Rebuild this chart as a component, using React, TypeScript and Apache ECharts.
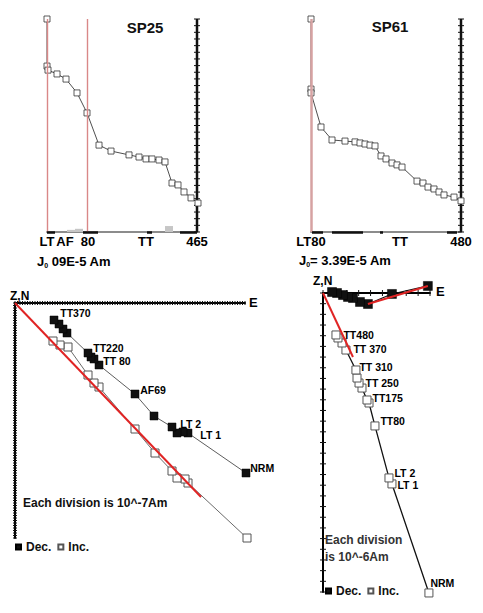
import React, { useEffect, useRef } from 'react';
import * as echarts from 'echarts';

const FONT = "'Liberation Sans', Arial, Helvetica, sans-serif";

// ---- SP25 demagnetisation curve (step position along axis, normalised intensity)
const sp25StepPos = [0, 0, 1, 10, 19, 30, 40, 52, 64, 82, 92, 99, 105, 112, 118, 125, 131, 137, 144, 151];
const sp25Intensity = [1.0, 0.779, 0.76, 0.742, 0.718, 0.653, 0.559, 0.408, 0.38, 0.362, 0.352, 0.343, 0.343, 0.338, 0.329, 0.23, 0.221, 0.188, 0.16, 0.136];
const sp25TickPos = [0, 18, 41, 99, 150];
const sp25TickLabels = ['LT', 'AF', '80', 'TT', '465'];
const sp25Boundaries = [0, 40];
const sp25BarPos = [24, 32, 122];
const sp25BarVal = [0.01, 0.015, 0.028];
const sp25SegStart = [0, 36, 100, 133];
const sp25SegEnd = [8, 51, 105, 150];

// ---- SP61 demagnetisation curve
const sp61StepPos = [0, 0, 0, 10, 21, 34, 44, 49, 54, 59, 64, 70, 75, 81, 86, 91, 106, 112, 117, 123, 128, 133, 143, 150];
const sp61Intensity = [1.0, 0.671, 0.653, 0.493, 0.432, 0.427, 0.423, 0.418, 0.413, 0.408, 0.404, 0.357, 0.343, 0.324, 0.315, 0.305, 0.239, 0.23, 0.211, 0.202, 0.188, 0.174, 0.164, 0.146];
const sp61TickPos = [0, 89, 150];
const sp61TickLabels = ['LT80', 'TT', '480'];
const sp61Boundaries = [0];
const sp61SegStart = [1, 21, 69, 136];
const sp61SegEnd = [12, 52, 72, 146];

// right-hand intensity ruler: number of divisions; demag step axis end
const rulerDivisions = 32;
const stepAxisMax = 150;

// ---- SP25 Zijderveld (divisions of 1e-7 Am), NRM first
const sp25DivE = 92;
const sp25DivZ = 94;
const sp25DecE = [92.4, 69.2, 67.2, 64.8, 62.8, 55.6, 48, 33.6, 31.6, 30.4, 29.2, 20.8, 19.2, 17.6, 15.6];
const sp25DecN = [68, 52, 51.6, 52, 49.6, 45.2, 36.4, 24.8, 22.4, 21.6, 20, 12, 10.4, 8.4, 6.8];
const sp25DecLabels = ['NRM', 'LT 1', 'LT 2', '', '', '', 'AF69', 'TT 80', '', '', 'TT220', '', '', '', 'TT370'];
const sp25IncE = [92.8, 69.2, 68, 64.8, 62.8, 56, 48, 33.6, 31.6, 29.2, 21.2, 18, 15.2];
const sp25IncZ = [94, 72, 70.4, 70, 67.2, 60, 50.4, 33.6, 32, 28.8, 17.6, 16.8, 15.2];
const sp25FitE = [0, 74.4];
const sp25FitZ = [0, 77.6];

// ---- SP61 Zijderveld (divisions of 1e-6 Am), NRM first
const sp61DivE = 9;
const sp61DivZ = 28;
const sp61DecE = [8.82, 5.8, 3.78, 3.11, 2.52, 2.1, 1.68, 1.18, 0.76];
const sp61DecN = [-0.66, 0.09, 1.03, 0.84, 0.47, 0.37, 0.19, 0, -0.09];
const sp61IncE = [8.91, 5.8, 5.55, 4.37, 3.87, 3.7, 3.28, 3.03, 2.86, 2.77, 1.93, 1.6, 1.26, 1.09];
const sp61IncZ = [28.09, 17.88, 17.32, 12.45, 10.3, 10.02, 8.9, 8.43, 7.96, 7.21, 5.34, 4.68, 4.21, 3.93];
const sp61IncLabels = ['NRM', 'LT 1', 'LT 2', 'TT80', '', 'TT175', '', 'TT 250', '', 'TT 310', 'TT 370', '', '', 'TT480'];
const sp61IncFitE = [0, 2.52];
const sp61IncFitZ = [0, 5.99];
const sp61DecFitE = [3.78, 8.82];
const sp61DecFitN = [1.03, -0.66];

// label placement (style only)
const sp25LabelPlace: Record<string, { d: number; o: [number, number] }> = {
  'NRM': { d: 1, o: [-1, -5] },
  'LT 1': { d: 8, o: [0, 2] },
  'LT 2': { d: 2, o: [-9, -8] },
  'AF69': { d: 1, o: [0, -4] },
  'TT 80': { d: 0, o: [0, -4] },
  'TT220': { d: 1, o: [0, -5] },
  'TT370': { d: 2, o: [0, -7] },
};
const sp61LabelPlace: Record<string, { d: number; o: [number, number] }> = {
  'NRM': { d: 1, o: [-4, -10] },
  'LT 1': { d: 1, o: [0, 1] },
  'LT 2': { d: 1, o: [0, -5] },
  'TT80': { d: 1, o: [0, -5] },
  'TT175': { d: 1, o: [0, -2] },
  'TT 250': { d: 2, o: [0, 0] },
  'TT 310': { d: 1, o: [-2, -3] },
  'TT 370': { d: 3, o: [0, -1] },
  'TT480': { d: 3, o: [0, 0] },
};

const zip = (a: number[], b: number[]) => a.map((v, i) => [v, b[i]]);
const steps = (n: number, scale = 1) => Array.from({ length: n + 1 }, (_, i) => i * scale);

function labelledItems(xs: number[], ys: number[], labels: string[], place: Record<string, { d: number; o: [number, number] }>) {
  return xs.map((x, i) => {
    const t = labels[i];
    if (!t) return { value: [x, ys[i]] };
    const p = place[t] || { d: 2, o: [0, 0] };
    return {
      value: [x, ys[i]],
      label: {
        show: true, formatter: t, position: 'right', distance: p.d, offset: p.o,
        fontFamily: FONT, fontWeight: 'bold', fontSize: 10.5, color: '#000',
      },
    };
  });
}

function segLines(starts: number[], ends: number[]) {
  return starts.map((s, i) => [
    { coord: [s, 0], lineStyle: { color: '#111', width: 2.5 } },
    { coord: [ends[i], 0] },
  ]);
}

// A tick ruler drawn through the axes' own scales: crossing ticks at each division,
// plus (optionally) the spine line joining the first and last division.
function ruler(axisIndex: number, dim: 'x' | 'y', at: number, values: number[], half: number, spineWidth: number) {
  const data = values.map((v) => (dim === 'y' ? [at, v] : [v, at]));
  const first = data[0];
  const last = data[data.length - 1];
  return {
    type: 'custom',
    xAxisIndex: axisIndex,
    yAxisIndex: axisIndex,
    silent: true,
    clip: false,
    z: 2,
    data,
    renderItem: (params: any, api: any) => {
      const p = api.coord([api.value(0), api.value(1)]);
      const shape = dim === 'y'
        ? { x1: p[0] - half, y1: p[1], x2: p[0] + half, y2: p[1] }
        : { x1: p[0], y1: p[1] - half, x2: p[0], y2: p[1] + half };
      const children: any[] = [{ type: 'line', shape, style: { stroke: '#111', lineWidth: 1 } }];
      if (spineWidth > 0 && params.dataIndex === 0) {
        const a = api.coord(first);
        const b = api.coord(last);
        children.push({
          type: 'line',
          shape: { x1: a[0], y1: a[1], x2: b[0], y2: b[1] },
          style: { stroke: '#111', lineWidth: spineWidth },
        });
      }
      return { type: 'group', children };
    },
  };
}

function demagX(gi: number, pos: number[], labels: string[]) {
  return {
    gridIndex: gi, type: 'value', min: 0, max: stepAxisMax,
    axisLine: { onZero: false, lineStyle: { color: '#8c8c8c', width: 2 } },
    axisTick: { show: false },
    splitLine: { show: false },
    axisLabel: {
      customValues: pos,
      formatter: (v: number) => {
        const idx = pos.indexOf(v);
        return idx >= 0 ? labels[idx] : '';
      },
      fontFamily: FONT, fontWeight: 'bold', fontSize: 13, color: '#000', margin: 3,
    },
  };
}

function demagY(gi: number) {
  return { gridIndex: gi, type: 'value', min: 0, max: 1, show: false, splitLine: { show: false } };
}

function zijX(gi: number, max: number) {
  return {
    gridIndex: gi, type: 'value', position: 'top', min: 0, max, interval: 1,
    axisLine: { show: true, onZero: false, lineStyle: { color: '#000', width: 2 } },
    axisTick: { show: false },
    axisLabel: { show: false },
    splitLine: { show: false },
  };
}

function zijY(gi: number, max: number) {
  return {
    gridIndex: gi, type: 'value', position: 'left', inverse: true, min: 0, max, interval: 1,
    axisLine: { show: true, onZero: false, lineStyle: { color: '#000', width: 2 } },
    axisTick: { show: false },
    axisLabel: { show: false },
    splitLine: { show: false },
  };
}

function txt(x: number, y: number, text: string, size: number, align = 'left', fill = '#000', rich?: any) {
  return {
    type: 'text', x, y, z: 10,
    style: {
      text, fontFamily: FONT, fontWeight: 'bold', fontSize: size, fill,
      align, textAlign: align, verticalAlign: 'middle', textVerticalAlign: 'middle', rich,
    },
  };
}

const j0Rich = {
  j: { fontFamily: FONT, fontWeight: 'bold', fontSize: 13, fill: '#000', lineHeight: 16, verticalAlign: 'middle' },
  s: { fontFamily: FONT, fontWeight: 'bold', fontSize: 7, fill: '#000', lineHeight: 16, verticalAlign: 'bottom' },
  t: { fontFamily: FONT, fontWeight: 'bold', fontSize: 13, fill: '#000', lineHeight: 16, verticalAlign: 'middle' },
};

export default function App() {
  const ref = useRef<HTMLDivElement>(null);
  useEffect(() => {
    if (!ref.current) return;
    const chart = echarts.init(ref.current, undefined, { renderer: 'svg' });
    const grids = [
      { left: 47, top: 19, width: 150, height: 213 },
      { left: 311, top: 19, width: 150, height: 213 },
      { left: 15, top: 303, width: 230, height: 235 },
      { left: 323, top: 293, width: 107, height: 299 },
    ];
    const openSquare = { color: '#fff', borderColor: '#333', borderWidth: 0.8 };
    const rulerTicks = steps(rulerDivisions, 1 / rulerDivisions);
    const option: any = {
      animation: false,
      backgroundColor: '#fff',
      textStyle: { fontFamily: FONT },
      grid: grids.map((g) => ({ ...g, containLabel: false, show: false })),
      xAxis: [
        demagX(0, sp25TickPos, sp25TickLabels),
        demagX(1, sp61TickPos, sp61TickLabels),
        zijX(2, sp25DivE),
        zijX(3, sp61DivE),
      ],
      yAxis: [demagY(0), demagY(1), zijY(2, sp25DivZ), zijY(3, sp61DivZ)],
      legend: [
        {
          left: 15, top: 541, padding: 0, data: ['Dec.', 'Inc.'], icon: 'rect', itemWidth: 5, itemHeight: 5, itemGap: 6,
          selectedMode: false, textStyle: { fontFamily: FONT, fontWeight: 'bold', fontSize: 12, color: '#111' },
        },
        {
          left: 325, top: 585, padding: 0, data: ['Dec.', 'Inc.'], icon: 'rect', itemWidth: 5, itemHeight: 5, itemGap: 6,
          selectedMode: false, textStyle: { fontFamily: FONT, fontWeight: 'bold', fontSize: 12, color: '#111' },
        },
      ],
      series: [
        // right-hand rulers of the demag panels
        ruler(0, 'y', stepAxisMax, rulerTicks, 3, 2.5),
        ruler(1, 'y', stepAxisMax, rulerTicks, 3, 2.5),
        // crossing ticks on the Zijderveld axes
        ruler(2, 'x', 0, steps(sp25DivE), 2, 0),
        ruler(2, 'y', 0, steps(sp25DivZ), 2, 0),
        ruler(3, 'x', 0, steps(sp61DivE), 3, 0),
        ruler(3, 'y', 0, steps(sp61DivZ), 3, 0),
        {
          type: 'bar', xAxisIndex: 0, yAxisIndex: 0, silent: true, barWidth: 8,
          itemStyle: { color: '#c6c6c6' }, data: zip(sp25BarPos, sp25BarVal), z: 1,
        },
        {
          type: 'line', name: 'SP25 demag', xAxisIndex: 0, yAxisIndex: 0, data: zip(sp25StepPos, sp25Intensity),
          symbol: 'rect', symbolSize: 6, itemStyle: openSquare, lineStyle: { color: '#222', width: 0.8 }, clip: false, z: 3,
          markLine: {
            silent: true, symbol: 'none', label: { show: false },
            lineStyle: { color: '#d98888', width: 1.4, type: 'solid' },
            data: [...sp25Boundaries.map((v) => ({ xAxis: v })), ...segLines(sp25SegStart, sp25SegEnd)],
          },
        },
        {
          type: 'line', name: 'SP61 demag', xAxisIndex: 1, yAxisIndex: 1, data: zip(sp61StepPos, sp61Intensity),
          symbol: 'rect', symbolSize: 6, itemStyle: openSquare, lineStyle: { color: '#222', width: 0.8 }, clip: false, z: 3,
          markLine: {
            silent: true, symbol: 'none', label: { show: false },
            lineStyle: { color: '#d6a2a2', width: 2.5, type: 'solid' },
            data: [...sp61Boundaries.map((v) => ({ xAxis: v })), ...segLines(sp61SegStart, sp61SegEnd)],
          },
        },
        {
          type: 'line', name: 'Inc.', xAxisIndex: 2, yAxisIndex: 2, data: zip(sp25IncE, sp25IncZ),
          symbol: 'rect', symbolSize: 8, itemStyle: { color: '#fff', borderColor: '#555', borderWidth: 1 },
          lineStyle: { color: '#444', width: 0.8 }, clip: false, z: 3,
        },
        {
          type: 'line', name: 'Dec.', xAxisIndex: 2, yAxisIndex: 2,
          data: labelledItems(sp25DecE, sp25DecN, sp25DecLabels, sp25LabelPlace),
          symbol: 'rect', symbolSize: 8, itemStyle: { color: '#111', borderColor: '#000', borderWidth: 0.5 },
          lineStyle: { color: '#333', width: 0.8 }, clip: false, z: 4,
        },
        {
          type: 'line', name: 'SP25 fit', xAxisIndex: 2, yAxisIndex: 2, data: zip(sp25FitE, sp25FitZ),
          symbol: 'none', lineStyle: { color: '#e02424', width: 2 }, clip: false, z: 5, silent: true,
        },
        {
          type: 'line', name: 'Dec.', xAxisIndex: 3, yAxisIndex: 3, data: zip(sp61DecE, sp61DecN),
          symbol: 'rect', symbolSize: 9, itemStyle: { color: '#111', borderColor: '#000', borderWidth: 0.5 },
          lineStyle: { color: '#111', width: 1.2 }, clip: false, z: 4,
        },
        {
          type: 'line', name: 'Inc.', xAxisIndex: 3, yAxisIndex: 3,
          data: labelledItems(sp61IncE, sp61IncZ, sp61IncLabels, sp61LabelPlace),
          symbol: 'rect', symbolSize: 8, itemStyle: { color: '#fff', borderColor: '#555', borderWidth: 1 },
          lineStyle: { color: '#111', width: 1.3 }, clip: false, z: 3,
        },
        {
          type: 'line', name: 'SP61 inc fit', xAxisIndex: 3, yAxisIndex: 3, data: zip(sp61IncFitE, sp61IncFitZ),
          symbol: 'none', lineStyle: { color: '#e02424', width: 2 }, clip: false, z: 5, silent: true,
        },
        {
          type: 'line', name: 'SP61 dec fit', xAxisIndex: 3, yAxisIndex: 3, data: zip(sp61DecFitE, sp61DecFitN),
          symbol: 'none', lineStyle: { color: '#e02424', width: 2 }, clip: false, z: 5, silent: true,
        },
      ],
      graphic: [
        txt(145, 27, 'SP25', 15, 'center', '#111'),
        txt(390, 26, 'SP61', 15, 'center', '#111'),
        txt(37, 261, '{j|J}{s|0}{t| 09E-5 Am}', 13, 'left', '#000', j0Rich),
        txt(299, 260, '{j|J}{s|0}{t|= 3.39E-5 Am}', 13, 'left', '#000', j0Rich),
        txt(10, 296, 'Z,N', 12),
        txt(313, 281, 'Z,N', 12),
        txt(249, 302, 'E', 13),
        txt(436, 291, 'E', 13),
        txt(23, 503, 'Each division is 10^-7Am', 12, 'left', '#111'),
        txt(325, 540, 'Each division', 12, 'left', '#333'),
        txt(325, 557, 'is 10^-6Am', 12, 'left', '#333'),
      ],
    };
    chart.setOption(option);
    return () => chart.dispose();
  }, []);
  return (
    <div
      ref={ref}
      style={{ position: 'absolute', left: 0, top: 0, width: 483, height: 613, background: '#fff' }}
    />
  );
}
